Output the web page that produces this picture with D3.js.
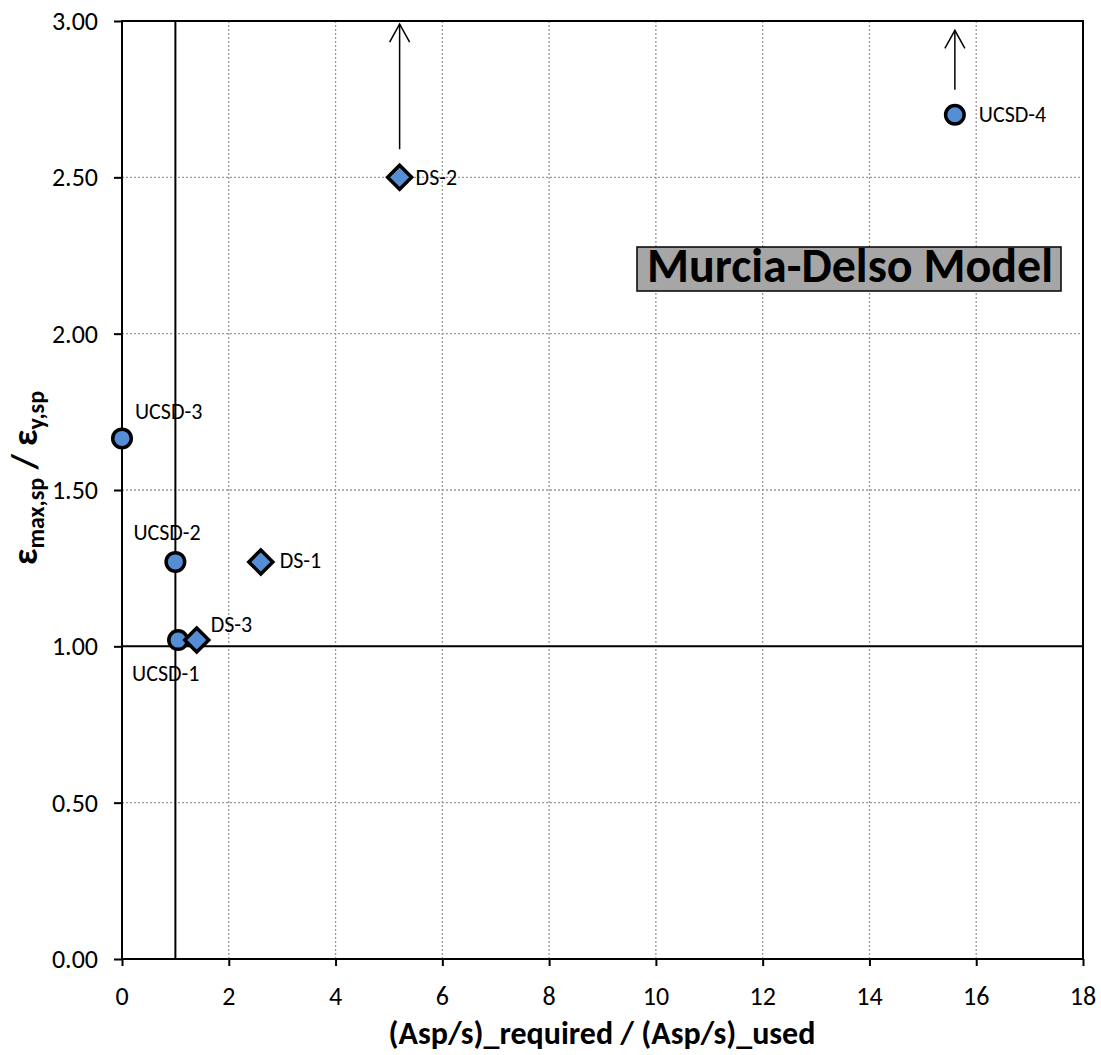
<!DOCTYPE html>
<html><head><meta charset="utf-8">
<script src="https://cdn.jsdelivr.net/npm/d3@7"></script>
<style>
body{margin:0;background:#fff;}
text{font-family:Carlito,Calibri,Lato,"Open Sans",sans-serif;}
</style></head>
<body><svg id="c" width="1101" height="1055"></svg>
<script>
// ---- data ----
const names   = ["UCSD-1","UCSD-2","UCSD-3","UCSD-4","DS-1","DS-2","DS-3"];
const xValues = [1.05, 1.0, 0.0, 15.6, 2.6, 5.2, 1.4];
const yValues = [1.02, 1.27, 1.665, 2.70, 1.27, 2.50, 1.02];
const shapes  = ["circle","circle","circle","circle","diamond","diamond","diamond"];
const arrowNames = ["DS-2","UCSD-4"];
const arrowFrom  = [2.59, 2.78];
const arrowTo    = [2.99, 2.97];
const xTicks = [0,2,4,6,8,10,12,14,16,18];
const yTicks = [0,0.5,1,1.5,2,2.5,3];
const xTickLabels = ["0","2","4","6","8","10","12","14","16","18"];
const yTickLabels = ["0.00","0.50","1.00","1.50","2.00","2.50","3.00"];
const refX = 1, refY = 1;
const title = "Murcia-Delso Model";

// ---- layout ----
const L=122, R=1083, T=21, B=959;
const svg=d3.select("#c");
const x=d3.scaleLinear().domain([0,18]).range([L,R]);
const y=d3.scaleLinear().domain([0,3]).range([B,T]);

// grid
svg.append("g").selectAll("line").data(xTicks.filter(d=>d>0&&d<18)).join("line")
 .attr("x1",d=>x(d)).attr("x2",d=>x(d)).attr("y1",T).attr("y2",B)
 .attr("stroke","#999").attr("stroke-width",1.3).attr("stroke-dasharray","2,2");
svg.append("g").selectAll("line").data(yTicks.filter(d=>d>0&&d<3)).join("line")
 .attr("x1",L).attr("x2",R).attr("y1",d=>y(d)).attr("y2",d=>y(d))
 .attr("stroke","#999").attr("stroke-width",1.3).attr("stroke-dasharray","2,2");

// axes (tick marks via d3.axis)
const xAx=svg.append("g").attr("transform",`translate(0,${B})`)
 .call(d3.axisBottom(x).tickValues(xTicks).tickFormat("").tickSizeInner(7).tickSizeOuter(0));
const yAx=svg.append("g").attr("transform",`translate(${L},0)`)
 .call(d3.axisLeft(y).tickValues(yTicks).tickFormat("").tickSizeInner(8).tickSizeOuter(0));
[xAx,yAx].forEach(g=>{
 g.select(".domain").remove();
 g.selectAll("line").attr("stroke","#000").attr("stroke-width",2);
});
// tick labels
svg.append("g").selectAll("text").data(xTicks).join("text")
 .attr("x",d=>x(d)).attr("y",B+46).attr("text-anchor","middle")
 .attr("fill","#000").style("font-size","26px").text((d,i)=>xTickLabels[i]);
svg.append("g").selectAll("text").data(yTicks).join("text")
 .attr("x",L-24).attr("y",d=>y(d)+9).attr("text-anchor","end")
 .attr("fill","#000").style("font-size","26px").text((d,i)=>yTickLabels[i]);

// border
svg.append("rect").attr("x",L).attr("y",T).attr("width",R-L).attr("height",B-T)
 .attr("fill","none").attr("stroke","#000").attr("stroke-width",2);

// reference lines
svg.append("line").attr("x1",x(refX)).attr("x2",x(refX)).attr("y1",T).attr("y2",B).attr("stroke","#000").attr("stroke-width",2);
svg.append("line").attr("x1",L).attr("x2",R).attr("y1",y(refY)).attr("y2",y(refY)).attr("stroke","#000").attr("stroke-width",2);

// arrows
arrowNames.forEach((n,i)=>{
 const k=names.indexOf(n); const px=x(xValues[k]);
 const y1=y(arrowFrom[i]), y2=y(arrowTo[i]);
 svg.append("line").attr("x1",px).attr("x2",px).attr("y1",y1).attr("y2",y2).attr("stroke","#000").attr("stroke-width",1.5);
 svg.append("path").attr("d",`M${px-10},${y2+18}L${px},${y2}L${px+10},${y2+18}`).attr("fill","none").attr("stroke","#000").attr("stroke-width",1.5);
});

// markers
const pts=names.map((n,i)=>({n,x:xValues[i],y:yValues[i],s:shapes[i]}));
svg.append("g").selectAll("path").data(pts).join("path")
 .attr("transform",d=>`translate(${x(d.x)},${y(d.y)})`)
 .attr("d",d=>d.s==="circle"?d3.symbol(d3.symbolCircle,270)():"M0,-12L12,0L0,12L-12,0Z")
 .attr("fill","#558ed5").attr("stroke","#000").attr("stroke-width",3.5);

// labels (offsets in px)
const labelOffset={"UCSD-1":[-46,36],"UCSD-2":[-42,-27],"UCSD-3":[13,-25],"UCSD-4":[24,2],"DS-1":[19,1],"DS-2":[16,2],"DS-3":[14,-13]};
svg.append("g").selectAll("text").data(pts).join("text")
 .attr("x",d=>x(d.x)+labelOffset[d.n][0]).attr("y",d=>y(d.y)+labelOffset[d.n][1])
 .attr("dominant-baseline","middle").style("font-size","22px").attr("fill","#000").text(d=>d.n);

// title box
svg.append("rect").attr("x",637).attr("y",247).attr("width",424).attr("height",44)
 .attr("fill","#a6a6a6").attr("stroke","#000").attr("stroke-width",1.5);
svg.append("text").attr("x",850).attr("y",270).attr("text-anchor","middle").attr("dominant-baseline","middle")
 .style("font-size","48px").attr("font-weight","bold").attr("fill","#000").text(title);

// axis titles
svg.append("text").attr("x",602).attr("y",1044).attr("text-anchor","middle")
 .style("font-size","32px").attr("font-weight","bold").text("(Asp/s)_required / (Asp/s)_used");
const yt=svg.append("text").attr("transform","translate(37,478) rotate(-90)").attr("text-anchor","middle")
 .style("font-size","36px").attr("font-weight","bold");
yt.append("tspan").text("ε");
yt.append("tspan").style("font-size","24px").attr("dy",7).text("max,sp");
yt.append("tspan").attr("dy",-7).text(" / ε");
yt.append("tspan").style("font-size","24px").attr("dy",7).text("y,sp");
</script></body></html>
